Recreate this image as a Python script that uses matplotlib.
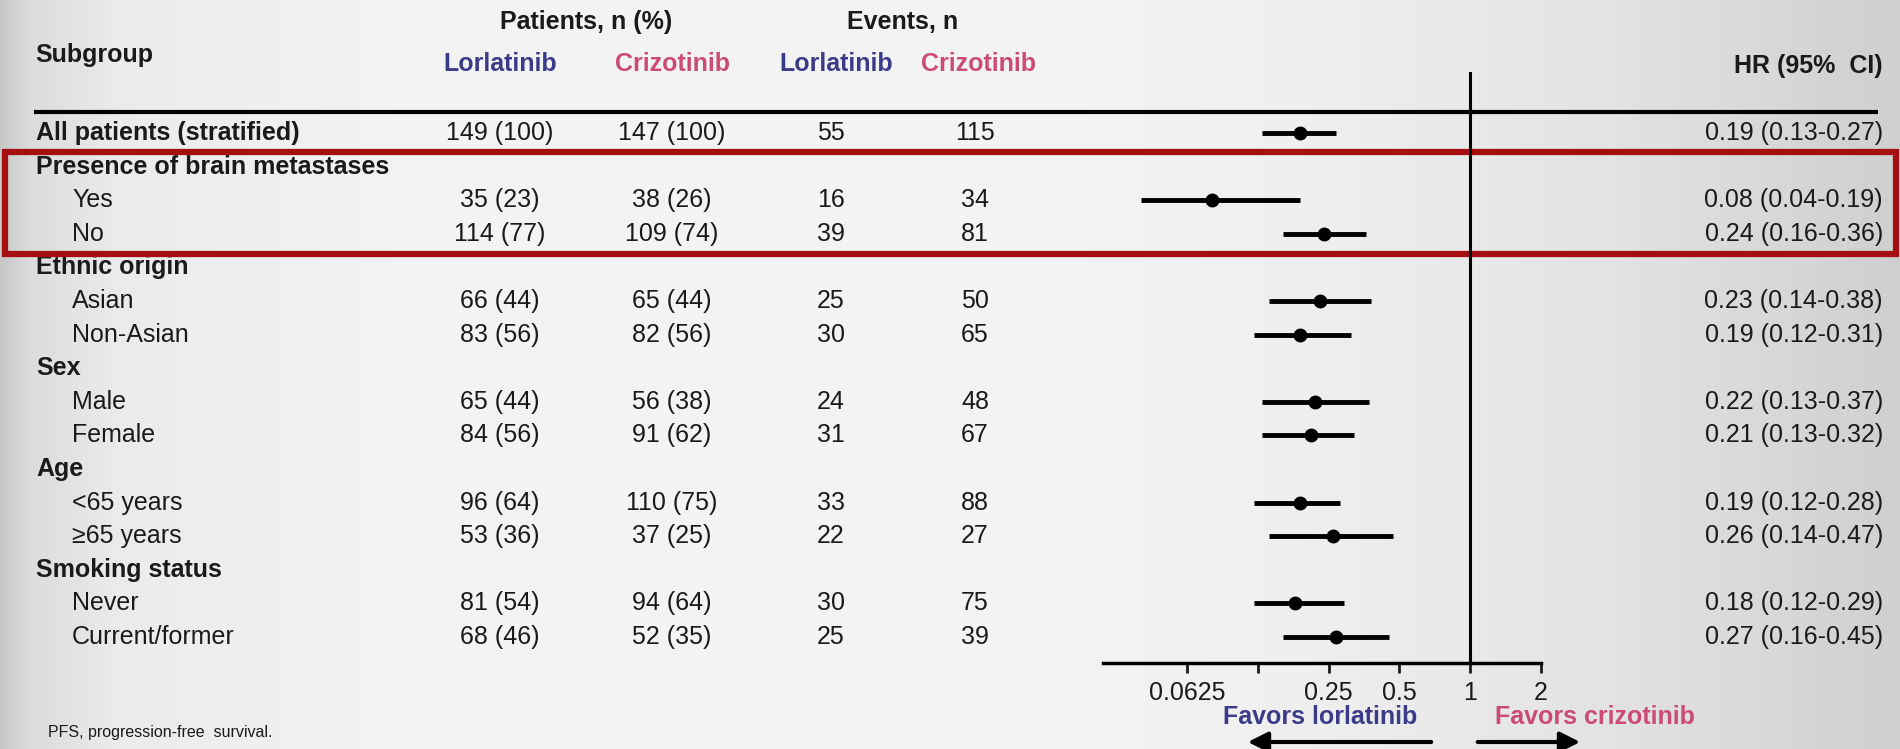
import numpy as np
import matplotlib.pyplot as plt
from matplotlib.patches import Rectangle, FancyArrowPatch

plt.rcParams['font.family'] = ['Liberation Sans', 'DejaVu Sans']

# Subgroup table
labels = ['All patients (stratified)', 'Presence of brain metastases', 'Yes', 'No',
          'Ethnic origin', 'Asian', 'Non-Asian', 'Sex', 'Male', 'Female',
          'Age', '<65 years', '\u226565 years', 'Smoking status', 'Never', 'Current/former']
heading = [True, True, False, False, True, False, False, True, False, False,
           True, False, False, True, False, False]
n_lor = [149, None, 35, 114, None, 66, 83, None, 65, 84, None, 96, 53, None, 81, 68]
pct_lor = [100, None, 23, 77, None, 44, 56, None, 44, 56, None, 64, 36, None, 54, 46]
n_criz = [147, None, 38, 109, None, 65, 82, None, 56, 91, None, 110, 37, None, 94, 52]
pct_criz = [100, None, 26, 74, None, 44, 56, None, 38, 62, None, 75, 25, None, 64, 35]
ev_lor = [55, None, 16, 39, None, 25, 30, None, 24, 31, None, 33, 22, None, 30, 25]
ev_criz = [115, None, 34, 81, None, 50, 65, None, 48, 67, None, 88, 27, None, 75, 39]
hr = [0.19, None, 0.08, 0.24, None, 0.23, 0.19, None, 0.22, 0.21, None, 0.19, 0.26, None, 0.18, 0.27]
hr_lo = [0.13, None, 0.04, 0.16, None, 0.14, 0.12, None, 0.13, 0.13, None, 0.12, 0.14, None, 0.12, 0.16]
hr_hi = [0.27, None, 0.19, 0.36, None, 0.38, 0.31, None, 0.37, 0.32, None, 0.28, 0.47, None, 0.29, 0.45]

xticks = [0.0625, 0.125, 0.25, 0.5, 1, 2]
xticklabels = ['0.0625', '', '0.25', '0.5', '1', '2']

LOR = '#3c3b8a'
CRIZ = '#cc4b74'
INK = '#1a1a1a'
FS = 18

W, H = 1900, 749
fig = plt.figure(figsize=(W / 100, H / 100), dpi=100)

# canvas in pixel coordinates
bg = fig.add_axes([0, 0, 1, 1])
bg.set_xlim(0, W)
bg.set_ylim(H, 0)
bg.axis('off')

# soft grey shading towards both edges
gx = np.arange(W)
shade = np.interp(gx, [0, 30, 120, 400, 1000, 1300, 1600, 1900],
                  [0.78, 0.86, 0.92, 0.95, 0.955, 0.935, 0.89, 0.81])
bg.imshow(np.tile(shade, (2, 1)), cmap='gray', vmin=0, vmax=1, aspect='auto',
          extent=[0, W, H, 0], zorder=0)

y0, step = 133, 33.6
rows = y0 + step * np.arange(len(labels))

# column headers
bg.text(35, 55, 'Subgroup', fontsize=FS, fontweight='bold', color=INK, va='center')
bg.text(586, 22, 'Patients, n (%)', fontsize=FS, fontweight='bold', color=INK, ha='center', va='center')
bg.text(903, 22, 'Events, n', fontsize=FS, fontweight='bold', color=INK, ha='center', va='center')
for x, name, c in [(500, 'Lorlatinib', LOR), (672, 'Crizotinib', CRIZ),
                   (836, 'Lorlatinib', LOR), (978, 'Crizotinib', CRIZ)]:
    bg.text(x, 64, name, fontsize=FS, fontweight='bold', color=c, ha='center', va='center')
bg.text(1883, 66, 'HR (95%  CI)', fontsize=FS, fontweight='bold', color=INK, ha='right', va='center')
bg.plot([34, 1878], [112, 112], color='black', lw=3, solid_capstyle='butt', zorder=3)

for i, y in enumerate(rows):
    if heading[i]:
        bg.text(36, y, labels[i], fontsize=FS, fontweight='bold', color=INK, va='center')
    else:
        bg.text(72, y, labels[i], fontsize=FS, color=INK, va='center')
    if n_lor[i] is None:
        continue
    bg.text(500, y, f'{n_lor[i]} ({pct_lor[i]})', fontsize=FS, color=INK, ha='center', va='center')
    bg.text(672, y, f'{n_criz[i]} ({pct_criz[i]})', fontsize=FS, color=INK, ha='center', va='center')
    bg.text(831, y, f'{ev_lor[i]}', fontsize=FS, color=INK, ha='center', va='center')
    bg.text(975, y, f'{ev_criz[i]}', fontsize=FS, color=INK, ha='center', va='center')
    bg.text(1883, y, f'{hr[i]:.2f} ({hr_lo[i]:.2f}-{hr_hi[i]:.2f})', fontsize=FS,
            color=INK, ha='right', va='center')

# highlight box around brain metastases rows
bg.add_patch(Rectangle((5, 152), 1891, 102, fill=False, edgecolor='#a50f12', lw=4.5, zorder=4))

bg.text(48, 733, 'PFS, progression-free  survival.', fontsize=11.5, color=INK, va='center')

# forest plot on a log2 axis
ax_top, ax_bot = 72, 663
ax = fig.add_axes([1103 / W, 1 - ax_bot / H, (1541 - 1103) / W, (ax_bot - ax_top) / H])
ax.patch.set_alpha(0)
ax.set_xscale('log', base=2)
ax.set_xlim(0.0275, 2)
ax.set_ylim(ax_bot, ax_top)
for s in ['top', 'left', 'right']:
    ax.spines[s].set_visible(False)
ax.spines['bottom'].set_linewidth(2.5)
ax.set_yticks([])
ax.set_xticks(xticks)
ax.set_xticklabels(xticklabels)
ax.xaxis.set_minor_locator(plt.NullLocator())
ax.tick_params(axis='x', direction='out', length=7, width=2, labelsize=FS, pad=6, colors=INK)
ax.axvline(1, color='black', lw=2.2)

for i, y in enumerate(rows):
    if hr[i] is None:
        continue
    ax.plot([hr_lo[i], hr_hi[i]], [y, y], color='black', lw=3.5, solid_capstyle='butt')
    ax.plot(hr[i], y, 'o', color='black', ms=9)

# favours labels and arrows
bg.text(1320, 717, 'Favors lorlatinib', fontsize=FS, fontweight='bold', color=LOR, ha='center', va='center')
bg.text(1595, 717, 'Favors crizotinib', fontsize=FS, fontweight='bold', color=CRIZ, ha='center', va='center')
bg.add_patch(FancyArrowPatch((1434, 742), (1245, 742), arrowstyle='-|>,head_length=12,head_width=6',
                             color='black', lw=3, mutation_scale=1))
bg.add_patch(FancyArrowPatch((1475, 742), (1583, 742), arrowstyle='-|>,head_length=12,head_width=6',
                             color='black', lw=3, mutation_scale=1))

fig.savefig('out.png', dpi=100)
